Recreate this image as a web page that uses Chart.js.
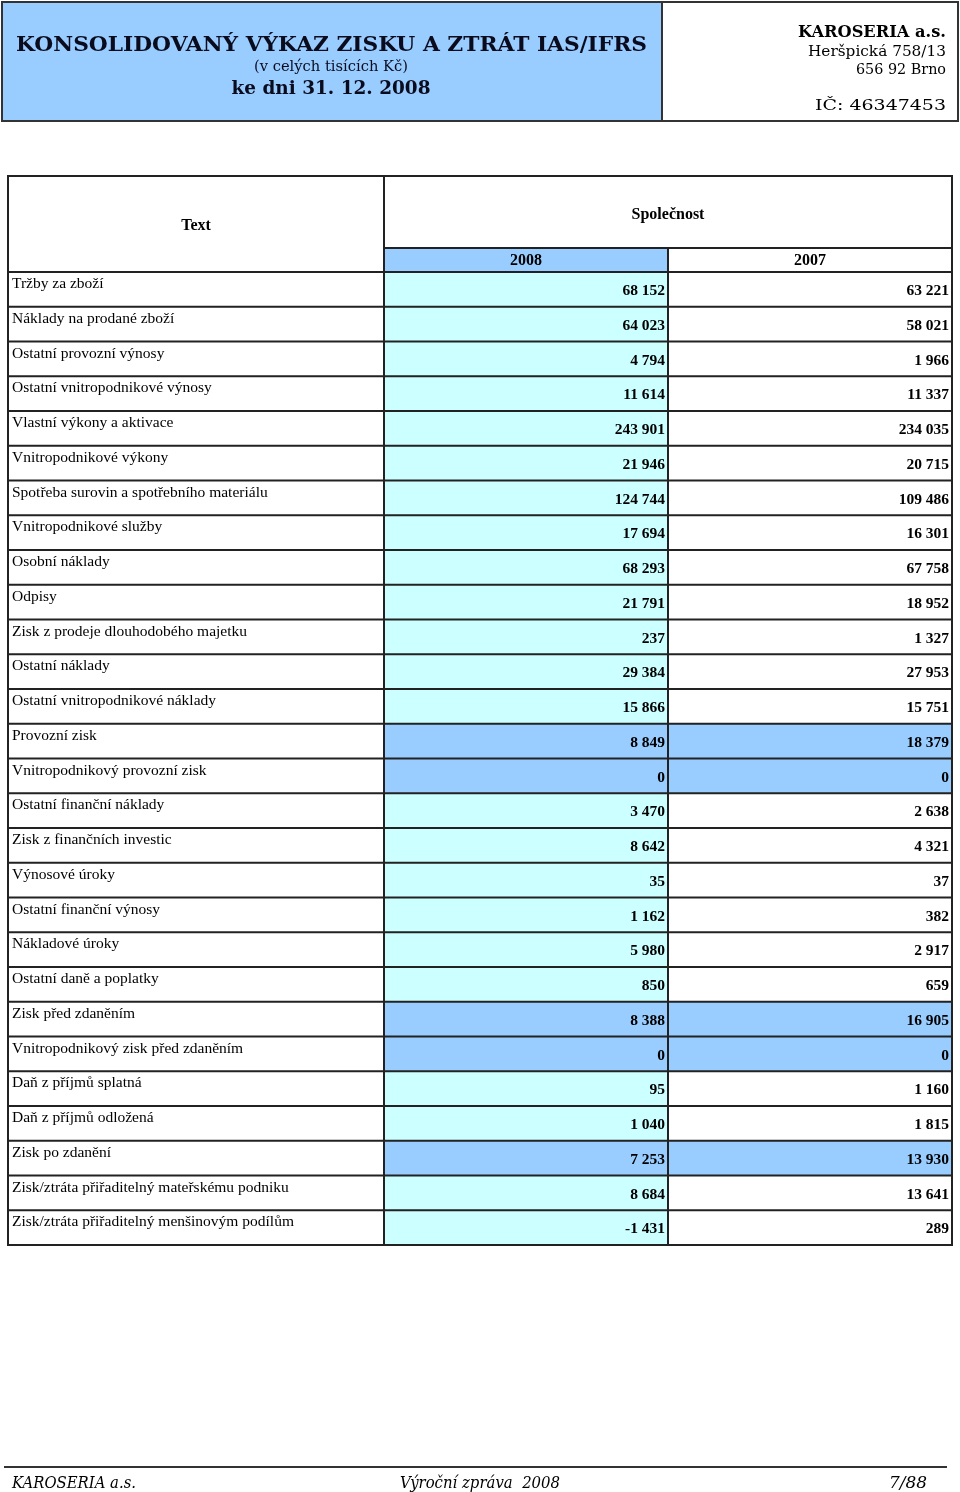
<!DOCTYPE html>
<html lang="cs">
<head>
<meta charset="UTF-8">
<script src="https://cdn.jsdelivr.net/npm/chart.js@4.4.3/dist/chart.umd.min.js"></script>
<style>
    html, body { margin: 0; padding: 0; background: #fff; }
    canvas { display: block; }
</style>
</head>
<body>
<canvas id="c" width="960" height="1492"></canvas>
<script>
    // rows of the statement
    const rowLabels = [
        "Tržby za zboží",
        "Náklady na prodané zboží",
        "Ostatní provozní výnosy",
        "Ostatní vnitropodnikové výnosy",
        "Vlastní výkony a aktivace",
        "Vnitropodnikové výkony",
        "Spotřeba surovin a spotřebního materiálu",
        "Vnitropodnikové služby",
        "Osobní náklady",
        "Odpisy",
        "Zisk z prodeje dlouhodobého majetku",
        "Ostatní náklady",
        "Ostatní vnitropodnikové náklady",
        "Provozní zisk",
        "Vnitropodnikový provozní zisk",
        "Ostatní finanční náklady",
        "Zisk z finančních investic",
        "Výnosové úroky",
        "Ostatní finanční výnosy",
        "Nákladové úroky",
        "Ostatní daně a poplatky",
        "Zisk před zdaněním",
        "Vnitropodnikový zisk před zdaněním",
        "Daň z příjmů splatná",
        "Daň z příjmů odložená",
        "Zisk po zdanění",
        "Zisk/ztráta přiřaditelný mateřskému podniku",
        "Zisk/ztráta přiřaditelný menšinovým podílům"
    ];
    const values2008 = [68152, 64023, 4794, 11614, 243901, 21946, 124744, 17694, 68293, 21791, 237, 29384, 15866,
        8849, 0, 3470, 8642, 35, 1162, 5980, 850, 8388, 0, 95, 1040, 7253, 8684, -1431];
    const values2007 = [63221, 58021, 1966, 11337, 234035, 20715, 109486, 16301, 67758, 18952, 1327, 27953, 15751,
        18379, 0, 2638, 4321, 37, 382, 2917, 659, 16905, 0, 1160, 1815, 13930, 13641, 289];
    const subtotalRows = ["Provozní zisk", "Vnitropodnikový provozní zisk", "Zisk před zdaněním",
        "Vnitropodnikový zisk před zdaněním", "Zisk po zdanění"];
    const yearLabels = ["2008", "2007"];

    // layout (x scale runs in table units: text column, 2008 column, 2007 column)
    const COLS = [0, 376, 660, 944];
    const BLUE = "#99ccff", CYAN = "#ccffff", LINE = "#222";
    const SERIF = "'Liberation Serif', 'Times New Roman', serif";
    const HEAD = "'DejaVu Serif', serif";

    const fmt = v => (v < 0 ? "-" : "") + Math.abs(v).toString().replace(/\B(?=(\d{3})+(?!\d))/g, " ");
    const isSub = i => subtotalRows.includes(rowLabels[i]);

    function fitText(ctx, text, x, y, width, align) {
        let w = ctx.measureText(text).width;
        let s = width / w;
        ctx.save();
        let left = align === "right" ? x - width : align === "center" ? x - width / 2 : x;
        ctx.translate(left, y);
        ctx.scale(s, 1);
        ctx.textAlign = "left";
        ctx.fillText(text, 0, 0);
        ctx.restore();
    }

    const tablePlugin = {
        id: "tablePlugin",
        afterDatasetsDraw(chart) {
            const ctx = chart.ctx;
            const xs = chart.scales.x, ys = chart.scales.y;
            const area = chart.chartArea;
            const band = (area.bottom - area.top) / rowLabels.length;
            const cx = COLS.map(c => xs.getPixelForValue(c));
            const headTop = area.top - 96, yearTop = area.top - 24;

            ctx.save();
            // year header row
            ctx.fillStyle = BLUE;
            ctx.fillRect(cx[1], yearTop, cx[2] - cx[1], 24);

            // grid
            ctx.strokeStyle = LINE;
            ctx.lineWidth = 2;
            ctx.beginPath();
            ctx.rect(cx[0], headTop, cx[3] - cx[0], area.bottom - headTop);
            ctx.moveTo(cx[1], headTop); ctx.lineTo(cx[1], area.bottom);
            ctx.moveTo(cx[1], yearTop); ctx.lineTo(cx[3], yearTop);
            ctx.moveTo(cx[2], yearTop); ctx.lineTo(cx[2], area.bottom);
            for (let i = 0; i < rowLabels.length; i++) {
                let top = ys.getPixelForValue(i) - band / 2;
                ctx.moveTo(cx[0], top); ctx.lineTo(cx[3], top);
            }
            ctx.stroke();

            // header texts
            ctx.fillStyle = "#000";
            ctx.font = "bold 16px " + SERIF;
            ctx.textAlign = "center";
            ctx.fillText("Text", (cx[0] + cx[1]) / 2, headTop + 54);
            ctx.fillText("Společnost", (cx[1] + cx[3]) / 2, headTop + 43);
            ctx.fillText(yearLabels[0], (cx[1] + cx[2]) / 2, yearTop + 17);
            ctx.fillText(yearLabels[1], (cx[2] + cx[3]) / 2, yearTop + 17);

            // rows
            for (let i = 0; i < rowLabels.length; i++) {
                let top = ys.getPixelForValue(i) - band / 2;
                ctx.font = "15.5px " + SERIF;
                ctx.textAlign = "left";
                ctx.fillText(rowLabels[i], cx[0] + 4, top + 16);
                ctx.font = "bold 15.5px " + SERIF;
                ctx.textAlign = "right";
                ctx.fillText(fmt(values2008[i]), cx[2] - 3, top + 23);
                ctx.fillText(fmt(values2007[i]), cx[3] - 3, top + 23);
            }

            // page header
            ctx.fillStyle = BLUE;
            ctx.fillRect(2, 2, 660, 119);
            ctx.strokeStyle = "#333";
            ctx.lineWidth = 2;
            ctx.strokeRect(2, 2, 956, 119);
            ctx.beginPath();
            ctx.moveTo(662, 2); ctx.lineTo(662, 121);
            ctx.stroke();

            ctx.fillStyle = "#0b0b1e";
            ctx.font = "bold 21px " + HEAD;
            fitText(ctx, "KONSOLIDOVANÝ VÝKAZ ZISKU A ZTRÁT IAS/IFRS", 16, 51, 631, "left");
            ctx.font = "15px " + HEAD;
            fitText(ctx, "(v celých tisících Kč)", 331, 71, 154, "center");
            ctx.font = "bold 19px " + HEAD;
            fitText(ctx, "ke dni 31. 12. 2008", 331, 94, 199, "center");

            ctx.fillStyle = "#000";
            ctx.font = "bold 17px " + HEAD;
            fitText(ctx, "KAROSERIA a.s.", 946, 37, 148, "right");
            ctx.font = "15px " + HEAD;
            fitText(ctx, "Heršpická 758/13", 946, 56, 138, "right");
            fitText(ctx, "656 92 Brno", 946, 74, 90, "right");
            fitText(ctx, "IČ: 46347453", 946, 110, 131, "right");

            // page footer
            ctx.strokeStyle = "#333";
            ctx.beginPath();
            ctx.moveTo(4, 1467); ctx.lineTo(947, 1467);
            ctx.stroke();
            ctx.fillStyle = "#000";
            ctx.font = "italic 16px " + HEAD;
            fitText(ctx, "KAROSERIA a.s.", 12, 1488, 124, "left");
            fitText(ctx, "Výroční zpráva  2008", 400, 1488, 160, "left");
            fitText(ctx, "7/88", 927, 1488, 38, "right");
            ctx.restore();
        }
    };

    new Chart(document.getElementById("c"), {
        type: "bar",
        data: {
            labels: rowLabels,
            datasets: [
                {
                    label: yearLabels[0],
                    data: rowLabels.map(() => [COLS[1], COLS[2]]),
                    backgroundColor: rowLabels.map((l, i) => isSub(i) ? BLUE : CYAN),
                    grouped: false
                },
                {
                    label: yearLabels[1],
                    data: rowLabels.map(() => [COLS[2], COLS[3]]),
                    backgroundColor: rowLabels.map((l, i) => isSub(i) ? BLUE : "#ffffff"),
                    grouped: false
                }
            ]
        },
        options: {
            indexAxis: "y",
            responsive: false,
            animation: false,
            layout: { padding: { left: 8, right: 8, top: 272, bottom: 247 } },
            datasets: { bar: { barPercentage: 1, categoryPercentage: 1, borderWidth: 0 } },
            scales: {
                x: { type: "linear", min: COLS[0], max: COLS[3], display: false },
                y: { type: "category", display: false }
            },
            plugins: { legend: { display: false }, tooltip: { enabled: false } }
        },
        plugins: [tablePlugin]
    });
</script>
</body>
</html>
